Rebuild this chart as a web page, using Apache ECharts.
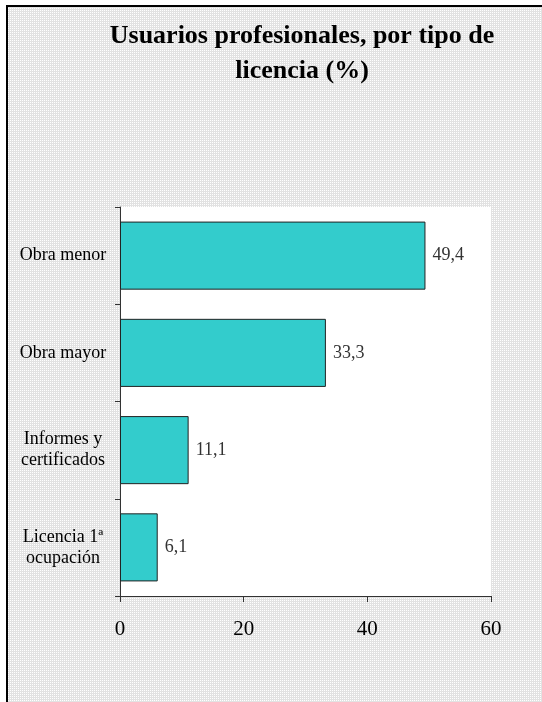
<!DOCTYPE html>
<html>
<head>
<meta charset="utf-8">
<script src="https://cdn.jsdelivr.net/npm/echarts@6/dist/echarts.min.js"></script>
<style>
  html, body { margin: 0; padding: 0; background: #fff; }
  #chart { width: 542px; height: 702px; }
</style>
</head>
<body>
<div id="chart"></div>
<script>
var categories = ["Obra menor", "Obra mayor", "Informes y\ncertificados", "Licencia 1ª\nocupación"];
var values = [49.4, 33.3, 11.1, 6.1];
var xTicks = [0, 20, 40, 60];

// grey dotted background tile
var tile = document.createElement("canvas");
tile.width = 2;
tile.height = 2;
var ctx = tile.getContext("2d");
ctx.fillStyle = "#e2e2e2";
ctx.fillRect(0, 0, 2, 2);
ctx.fillStyle = "#ffffff";
ctx.fillRect(0, 0, 1, 1);

var serif = "'Liberation Serif', 'Times New Roman', serif";
var chart = echarts.init(document.getElementById("chart"));
chart.setOption({
  backgroundColor: "#fff",
  animation: false,
  graphic: [
    {
      type: "rect",
      z: -10,
      shape: { x: 7, y: 6, width: 600, height: 800 },
      style: { fill: { image: tile, repeat: "repeat" }, stroke: "#000", lineWidth: 2 }
    }
  ],
  title: {
    text: "Usuarios profesionales, por tipo de\nlicencia (%)",
    left: 297,
    top: 14,
    textAlign: "center",
    textStyle: {
      fontFamily: serif,
      fontWeight: "bold",
      fontSize: 26,
      lineHeight: 35,
      color: "#000"
    }
  },
  grid: {
    left: 120,
    right: 51,
    top: 207,
    bottom: 106,
    show: true,
    backgroundColor: "#fff",
    borderWidth: 0
  },
  xAxis: {
    type: "value",
    min: xTicks[0],
    max: xTicks[xTicks.length - 1],
    interval: 20,
    axisLine: { show: true, lineStyle: { color: "#333", width: 1 } },
    axisTick: { show: true, length: 6, lineStyle: { color: "#333" } },
    splitLine: { show: false },
    axisLabel: {
      margin: 23,
      fontFamily: serif,
      fontSize: 21,
      color: "#000"
    }
  },
  yAxis: {
    type: "category",
    inverse: true,
    data: categories,
    axisLine: { show: true, lineStyle: { color: "#333", width: 1 } },
    axisTick: { show: true, length: 5, lineStyle: { color: "#333" } },
    axisLabel: {
      margin: 57,
      align: "center",
      fontFamily: serif,
      fontSize: 18,
      lineHeight: 21,
      color: "#000"
    }
  },
  series: [
    {
      type: "bar",
      data: values,
      barCategoryGap: "30%",
      itemStyle: { color: "#33CCCC", borderColor: "#222", borderWidth: 1 },
      label: {
        show: true,
        position: "right",
        distance: 7,
        fontFamily: serif,
        fontSize: 18,
        color: "#333",
        formatter: function (p) { return p.value.toFixed(1).replace(".", ","); }
      }
    }
  ]
});
</script>
</body>
</html>
